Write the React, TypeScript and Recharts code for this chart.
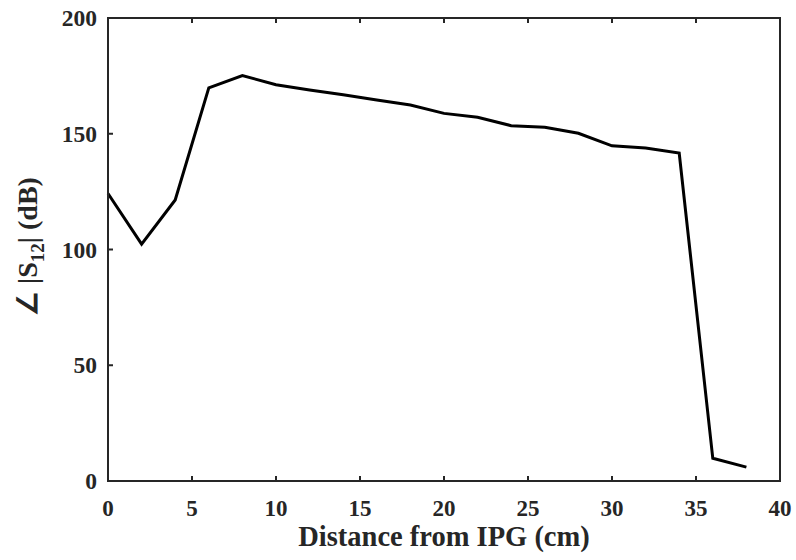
import React from 'react'
import { LineChart, Line, XAxis, YAxis } from 'recharts'

// distance from IPG (cm) and phase of S12
const distance = [0, 2, 4, 6, 8, 10, 12, 14, 16, 18, 20, 22, 24, 26, 28, 30, 32, 34, 36, 38]
const phase = [124.2, 102.3, 121.4, 169.8, 175.1, 171.2, 168.9, 166.8, 164.6, 162.4, 158.8, 157.1, 153.5, 152.8, 150.2, 144.8, 143.8, 141.7, 9.8, 6.0]

const xTicks = [0, 5, 10, 15, 20, 25, 30, 35, 40]
const yTicks = [0, 50, 100, 150, 200]

const data = distance.map((d, i) => ({ distance: d, phase: phase[i] }))

const FONT = '"Liberation Serif", "Times New Roman", serif'
const INK = '#262626'
const TICK_LEN = 5

const BottomTick = ({ x, y, payload }: any) => (
  <g>
    <line x1={x} y1={y} x2={x} y2={y - TICK_LEN} stroke={INK} strokeWidth={2} />
    <text x={x} y={y + 34.5} textAnchor="middle" fontFamily={FONT} fontWeight="bold" fontSize={23} fill={INK}>
      {payload.value}
    </text>
  </g>
)

const TopTick = ({ x, y }: any) => (
  <line x1={x} y1={y} x2={x} y2={y + TICK_LEN} stroke={INK} strokeWidth={2} />
)

const LeftTick = ({ x, y, payload }: any) => (
  <g>
    <line x1={x} y1={y} x2={x + TICK_LEN} y2={y} stroke={INK} strokeWidth={2} />
    <text x={x - 11} y={y + 8} textAnchor="end" fontFamily={FONT} fontWeight="bold" fontSize={23.5} fill={INK}>
      {payload.value}
    </text>
  </g>
)

const RightTick = ({ x, y }: any) => (
  <line x1={x} y1={y} x2={x - TICK_LEN} y2={y} stroke={INK} strokeWidth={2} />
)

const axisLine = { stroke: INK, strokeWidth: 2, strokeLinecap: 'square' as const }

export default function App() {
  return (
    <div style={{ position: 'fixed', left: 0, top: 0, width: 796, height: 560, background: 'white' }}>
      <LineChart width={796} height={560} data={data} margin={{ top: 17, right: 15, bottom: 0, left: 0 }}>
        <XAxis
          dataKey="distance"
          type="number"
          domain={[0, 40]}
          ticks={xTicks}
          height={79}
          tickSize={0}
          tickMargin={0}
          tickLine={false}
          axisLine={axisLine}
          tick={<BottomTick />}
          label={{
            content: ({ viewBox }: any) => (
              <text
                x={viewBox.x + viewBox.width / 2}
                y={viewBox.y + 64.5}
                textAnchor="middle"
                fontFamily={FONT}
                fontWeight="bold"
                fontSize={28.5}
                fill={INK}
              >
                Distance from IPG (cm)
              </text>
            ),
          }}
        />
        <XAxis
          xAxisId="top"
          orientation="top"
          dataKey="distance"
          type="number"
          domain={[0, 40]}
          ticks={xTicks}
          height={1}
          tickSize={0}
          tickMargin={0}
          tickLine={false}
          axisLine={axisLine}
          tick={<TopTick />}
        />
        <YAxis
          type="number"
          domain={[0, 200]}
          ticks={yTicks}
          width={108}
          tickSize={0}
          tickMargin={0}
          tickLine={false}
          axisLine={axisLine}
          tick={<LeftTick />}
          label={{
            content: ({ viewBox }: any) => {
              const cx = 37
              const cy = viewBox.y + viewBox.height / 2 - 3
              return (
                <text
                  x={cx}
                  y={cy}
                  transform={`rotate(-90, ${cx}, ${cy})`}
                  textAnchor="middle"
                  fontFamily={FONT}
                  fontWeight="bold"
                  fontSize={28}
                  fill={INK}
                >
                  {'\u2220 |S'}
                  <tspan dy={7} fontSize={19}>12</tspan>
                  <tspan dy={-7}>{'| (dB)'}</tspan>
                </text>
              )
            },
          }}
        />
        <YAxis
          yAxisId="right"
          orientation="right"
          type="number"
          domain={[0, 200]}
          ticks={yTicks}
          width={1}
          tickSize={0}
          tickMargin={0}
          tickLine={false}
          axisLine={axisLine}
          tick={<RightTick />}
        />
        <Line
          type="linear"
          dataKey="phase"
          stroke="#000000"
          strokeWidth={3}
          dot={false}
          activeDot={false}
          isAnimationActive={false}
        />
      </LineChart>
    </div>
  )
}
